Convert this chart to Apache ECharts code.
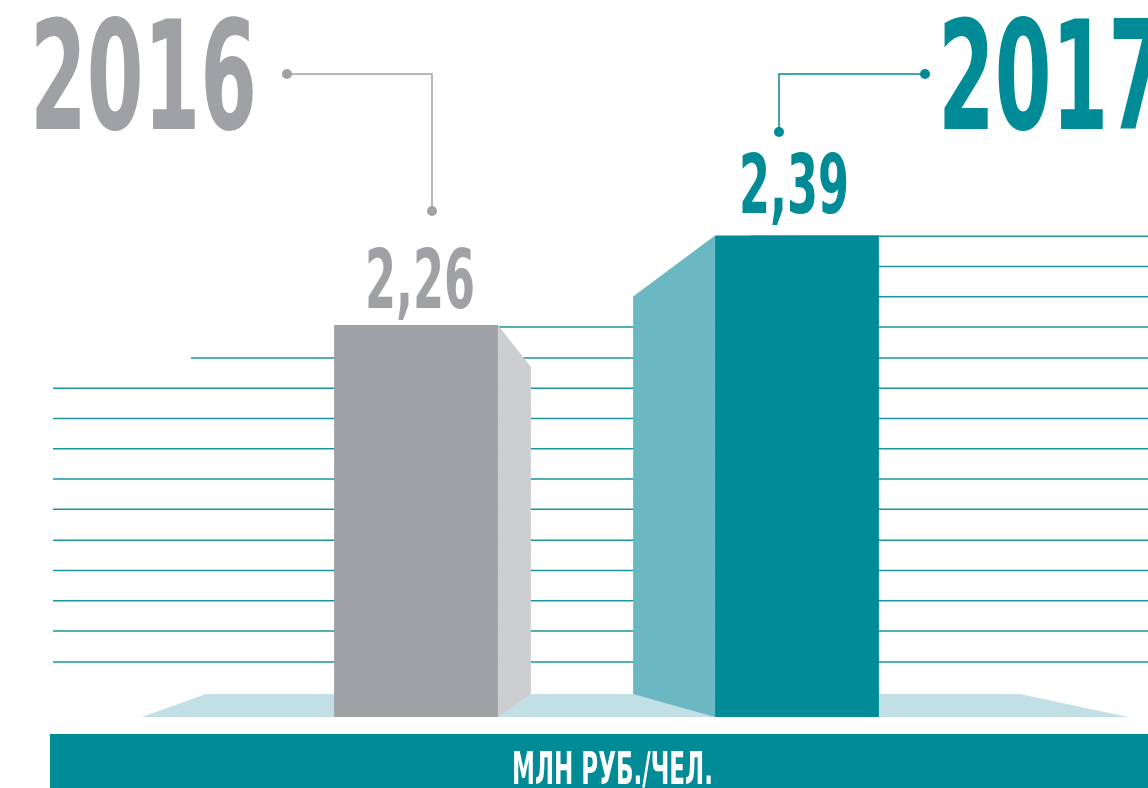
<!DOCTYPE html>
<html><head><meta charset="utf-8">
<script src="https://cdn.jsdelivr.net/npm/echarts/dist/echarts.min.js"></script>
<style>html,body{margin:0;padding:0;background:#fff;overflow:hidden}#c{width:1148px;height:788px}</style>
</head><body><div id="c"></div>
<script>
// ---- data ----
const years = ['2016', '2017'];
const values = [2.26, 2.39];
const unitLabel = 'МЛН РУБ./ЧЕЛ.';
const ruleLevels = [2.389, 2.345, 2.301, 2.257, 2.212, 2.168, 2.124, 2.080, 2.036, 1.992, 1.947, 1.903, 1.859, 1.815, 1.770];
const axisMin = 1.69;
const axisMax = 2.40;

// ---- styles ----
const GRAY = '#a0a1a5', GRAY_SIDE = '#cdced0';
const TEAL = '#008b96', TEAL_SIDE = '#6cb8c2';
const FLOOR = '#c1dfe4', RULE = '#1a949e';
const COND = '"Liberation Sans Narrow", "DejaVu Sans Condensed", "Liberation Sans", sans-serif';

const mctx = document.createElement('canvas').getContext('2d');
function textW(t, size) { mctx.font = 'bold ' + size + 'px ' + COND; return mctx.measureText(t).width; }

const yearSize = 151;
const yearScale = 227 / textW(years[0], yearSize);
const labelSize = 82;
const labelScale = 110 / textW('2,26', labelSize);
const unitSize = 45;
const unitScale = 201 / textW(unitLabel, unitSize);

const fmt = v => v.toFixed(2).replace('.', ',');

const chart = echarts.init(document.getElementById('c'), null, { renderer: 'canvas' });
chart.setOption({
  animation: false,
  backgroundColor: '#fff',
  grid: { left: 225.5, right: 160.5, top: 228.7, bottom: 71 },
  xAxis: { type: 'category', data: years, show: false },
  yAxis: { type: 'value', min: axisMin, max: axisMax, show: false },
  series: [
    {
      type: 'custom', name: 'rules', clip: false, z: 1,
      data: ruleLevels.map(v => [0, v]),
      renderItem(params, api) {
        const y = api.coord([0, api.value(1)])[1];
        const i = params.dataIndex;
        const x0 = i < 3 ? 750 : (i === 3 ? 420 : (i === 4 ? 191 : 53));
        return { type: 'line', shape: { x1: x0, y1: y, x2: 1160, y2: y }, style: { stroke: RULE, lineWidth: 1.6 } };
      }
    },
    {
      type: 'custom', name: 'floor', clip: false, z: 2,
      data: [[0, axisMin]],
      renderItem(params, api) {
        const b = api.coord([0, axisMin])[1];
        return { type: 'polygon', shape: { points: [[206, b - 23], [1020, b - 23], [1128, b], [142, b]] }, style: { fill: FLOOR } };
      }
    },
    {
      type: 'custom', name: 'bars', clip: false, z: 3,
      data: values.map((v, i) => [i, v]),
      renderItem(params, api) {
        const i = api.value(0), v = api.value(1);
        const top = api.coord([i, v]);
        const base = api.coord([i, axisMin]);
        const w = api.size([1, 0])[0] * 0.43;
        const xl = top[0] - w / 2, xr = top[0] + w / 2, yt = top[1], yb = base[1];
        const side = i === 0
          ? [[xr, yt], [xr + 33, yt + 42], [xr + 33, yb - 23], [xr, yb]]
          : [[xl, yt], [xl - 82, yt + 61], [xl - 82, yb - 23], [xl, yb]];
        const front = i === 0 ? GRAY : TEAL;
        const sideCol = i === 0 ? GRAY_SIDE : TEAL_SIDE;
        const gap = i === 0 ? 16 : 22;
        const capH = 60;
        return {
          type: 'group',
          children: [
            { type: 'polygon', shape: { points: side }, style: { fill: sideCol } },
            { type: 'rect', shape: { x: xl, y: yt, width: w, height: yb - yt }, style: { fill: front } },
            { type: 'text', x: top[0] + (i === 0 ? 4 : -3), y: yt - gap - capH / 2 + 8, scaleX: labelScale,
              style: { text: fmt(v), font: 'bold ' + labelSize + 'px ' + COND, fill: front, align: 'center', verticalAlign: 'middle' } }
          ]
        };
      }
    }
  ],
  graphic: [
    { type: 'text', x: 30, y: 90, scaleX: yearScale, style: { text: years[0], font: 'bold ' + yearSize + 'px ' + COND, fill: GRAY, align: 'left', verticalAlign: 'middle' } },
    { type: 'text', x: 938, y: 90, scaleX: yearScale, style: { text: years[1], font: 'bold ' + yearSize + 'px ' + COND, fill: TEAL, align: 'left', verticalAlign: 'middle' } },
    { type: 'polyline', shape: { points: [[287, 74], [432, 74], [432, 211]] }, style: { stroke: GRAY, lineWidth: 1.5, fill: null } },
    { type: 'circle', shape: { cx: 287, cy: 74, r: 5 }, style: { fill: GRAY } },
    { type: 'circle', shape: { cx: 432, cy: 211, r: 5 }, style: { fill: GRAY } },
    { type: 'polyline', shape: { points: [[925, 74], [779, 74], [779, 132]] }, style: { stroke: TEAL, lineWidth: 1.5, fill: null } },
    { type: 'circle', shape: { cx: 925, cy: 74, r: 5 }, style: { fill: TEAL } },
    { type: 'circle', shape: { cx: 779, cy: 132, r: 5 }, style: { fill: TEAL } },
    { type: 'rect', shape: { x: 50, y: 734, width: 1110, height: 60 }, style: { fill: TEAL } },
    { type: 'text', x: 612.5, y: 772, scaleX: unitScale, style: { text: unitLabel, font: 'bold ' + unitSize + 'px ' + COND, fill: '#fff', align: 'center', verticalAlign: 'middle' } }
  ]
});
</script>
</body></html>
